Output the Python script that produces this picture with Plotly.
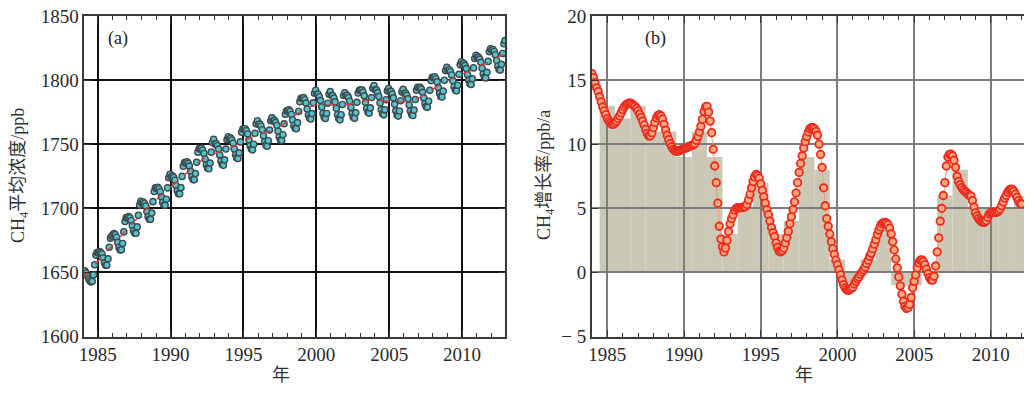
import plotly.graph_objects as go

# ---------------- data: panel (a) monthly CH4 concentration (ppb) ----------------
years_a = list(range(1984, 2013))
ch4_monthly = [
    1651.5, 1651.0, 1649.5, 1647.0, 1645.0, 1643.5, 1642.5, 1643.0, 1648.0, 1656.0, 1663.5, 1665.5,  # 1984
    1665.3, 1666.3, 1665.4, 1664.4, 1661.4, 1657.5, 1655.5, 1655.6, 1660.6, 1669.6, 1676.7, 1678.2,  # 1985
    1679.3, 1680.3, 1679.4, 1677.4, 1673.4, 1669.5, 1667.5, 1667.6, 1672.6, 1681.6, 1689.7, 1692.7,  # 1986
    1692.5, 1693.5, 1692.5, 1690.5, 1686.5, 1682.5, 1680.5, 1680.5, 1685.5, 1694.5, 1702.5, 1705.5,  # 1987
    1704.0, 1704.9, 1703.8, 1701.7, 1697.6, 1693.5, 1691.5, 1691.4, 1696.3, 1705.2, 1713.1, 1716.0,  # 1988
    1715.4, 1716.3, 1715.1, 1712.9, 1708.8, 1704.6, 1702.4, 1702.3, 1707.1, 1715.9, 1723.8, 1726.6,  # 1989
    1724.4, 1725.3, 1724.1, 1721.9, 1717.8, 1713.6, 1711.4, 1711.3, 1716.1, 1724.9, 1732.8, 1735.6,  # 1990
    1735.4, 1736.3, 1735.1, 1732.9, 1728.8, 1724.6, 1722.4, 1722.3, 1727.1, 1735.9, 1743.8, 1746.6,  # 1991
    1746.3, 1746.8, 1745.3, 1742.8, 1738.3, 1733.8, 1731.3, 1730.8, 1735.3, 1743.8, 1751.3, 1753.8,  # 1992
    1750.2, 1750.5, 1748.8, 1746.2, 1741.5, 1736.8, 1734.2, 1733.5, 1737.8, 1746.2, 1753.5, 1755.8,  # 1993
    1754.3, 1754.8, 1753.3, 1750.8, 1746.3, 1741.8, 1739.3, 1738.8, 1743.3, 1751.8, 1759.3, 1761.8,  # 1994
    1761.7, 1762.1, 1760.5, 1758.0, 1753.4, 1748.8, 1746.2, 1745.6, 1750.0, 1758.5, 1765.9, 1768.3,  # 1995
    1765.4, 1765.7, 1764.0, 1761.3, 1756.6, 1751.9, 1749.1, 1748.4, 1752.7, 1761.0, 1768.3, 1770.6,  # 1996
    1768.0, 1768.6, 1767.1, 1764.6, 1760.2, 1755.7, 1753.3, 1752.8, 1757.4, 1765.9, 1773.4, 1776.0,  # 1997
    1776.1, 1776.8, 1775.5, 1773.2, 1768.9, 1764.6, 1762.4, 1762.1, 1766.8, 1775.5, 1783.2, 1785.9,  # 1998
    1785.9, 1786.3, 1784.7, 1782.1, 1777.4, 1772.8, 1770.2, 1769.6, 1773.9, 1782.3, 1789.7, 1792.1,  # 1999
    1789.0, 1789.0, 1787.0, 1784.0, 1779.0, 1774.0, 1771.0, 1770.0, 1774.0, 1782.0, 1789.0, 1791.0,  # 2000
    1788.0, 1788.0, 1786.0, 1783.0, 1778.0, 1773.0, 1770.0, 1769.0, 1773.0, 1781.0, 1788.0, 1790.0,  # 2001
    1787.9, 1788.1, 1786.3, 1783.5, 1778.7, 1773.9, 1771.1, 1770.3, 1774.5, 1782.7, 1789.9, 1792.1,  # 2002
    1792.3, 1792.4, 1790.6, 1787.7, 1782.8, 1777.9, 1775.1, 1774.2, 1778.3, 1786.4, 1793.6, 1795.7,  # 2003
    1792.5, 1792.4, 1790.3, 1787.2, 1782.1, 1777.0, 1774.0, 1772.9, 1776.8, 1784.7, 1791.6, 1793.5,  # 2004
    1791.2, 1791.2, 1789.1, 1786.1, 1781.1, 1776.0, 1773.0, 1771.9, 1775.9, 1783.9, 1790.8, 1792.8,  # 2005
    1789.6, 1789.9, 1788.1, 1785.4, 1780.6, 1775.9, 1773.1, 1772.4, 1776.6, 1784.9, 1792.1, 1794.4,  # 2006
    1793.8, 1794.4, 1793.0, 1790.5, 1786.1, 1781.7, 1779.3, 1778.9, 1783.5, 1792.0, 1799.6, 1802.2,  # 2007
    1802.0, 1802.6, 1801.1, 1798.6, 1794.2, 1789.7, 1787.3, 1786.8, 1791.4, 1799.9, 1807.4, 1810.0,  # 2008
    1807.7, 1808.1, 1806.5, 1804.0, 1799.4, 1794.8, 1792.2, 1791.6, 1796.0, 1804.5, 1811.9, 1814.3,  # 2009
    1812.7, 1813.1, 1811.5, 1809.0, 1804.4, 1799.8, 1797.2, 1796.6, 1801.0, 1809.5, 1816.9, 1819.3,  # 2010
    1817.5, 1817.9, 1816.4, 1813.9, 1809.3, 1804.8, 1802.2, 1801.7, 1806.1, 1814.6, 1822.1, 1824.5,  # 2011
    1823.3, 1823.8, 1822.3, 1819.8, 1815.3, 1810.8, 1808.3, 1807.8, 1812.3, 1820.8, 1828.3, 1830.8,  # 2012
]
# deseasonalised trend (ppb) at the start of each year
trend_years = list(range(1984, 2014))
trend_values = [1645.5, 1658.5, 1671.0, 1683.5, 1695.5, 1706.5, 1716.5, 1726.5, 1736.5, 1742.5,
                1746.5, 1752.5, 1757.5, 1761.0, 1767.5, 1776.0, 1780.5, 1780.5, 1780.5, 1783.0,
                1784.5, 1783.5, 1783.0, 1786.0, 1793.0, 1799.5, 1804.5, 1809.5, 1815.0, 1821.0]

# ---------------- data: panel (b) growth rate (ppb/a) ----------------
growth_start, growth_step = 1984.0, 0.1
growth_smoothed = [
    15.5, 15.2, 14.8, 14.4, 14.1, 13.7, 13.3, 12.9, 12.6, 12.3,          # 1984
    12.0, 11.8, 11.65, 11.55, 11.55, 11.65, 11.8, 12.0, 12.2, 12.45,    # 1985
    12.7, 12.9, 13.05, 13.15, 13.2, 13.2, 13.15, 13.05, 12.95, 12.8,    # 1986
    12.6, 12.35, 12.1, 11.8, 11.5, 11.15, 10.85, 10.65, 10.65, 10.9,    # 1987
    11.3, 11.7, 12.05, 12.25, 12.3, 12.2, 11.95, 11.55, 11.1, 10.7,     # 1988
    10.35, 10.05, 9.8, 9.6, 9.5, 9.45, 9.45, 9.5, 9.55, 9.6,            # 1989
    9.65, 9.7, 9.75, 9.8, 9.85, 9.9, 9.95, 10.05, 10.3, 10.6,           # 1990
    10.95, 11.4, 11.95, 12.55, 12.9, 12.95, 12.5, 11.8, 10.9, 9.6,      # 1991
    8.3, 7.0, 5.4, 3.6, 2.6, 2.0, 1.6, 1.9, 2.5, 3.2,                   # 1992
    3.8, 4.2, 4.5, 4.85, 5.0, 5.05, 5.05, 5.05, 5.05, 5.1,              # 1993
    5.15, 5.3, 5.65, 6.1, 6.6, 7.1, 7.45, 7.65, 7.55, 7.35,             # 1994
    6.9, 6.4, 5.9, 5.4, 4.9, 4.5, 4.0, 3.5, 3.1, 2.8,                   # 1995
    2.3, 1.95, 1.65, 1.6, 1.7, 1.9, 2.3, 2.7, 3.2, 3.8,                 # 1996
    4.35, 4.9, 5.5, 6.2, 7.0, 7.8, 8.5, 9.1, 9.7, 10.2,                 # 1997
    10.6, 10.95, 11.2, 11.3, 11.3, 11.2, 11.0, 10.7, 10.0, 9.2,         # 1998
    8.2, 6.6, 5.2, 4.2, 3.6, 3.0, 2.4, 1.85, 1.4, 0.95,                 # 1999
    0.6, 0.2, -0.2, -0.6, -0.95, -1.2, -1.35, -1.4, -1.35, -1.25,       # 2000
    -1.15, -0.9, -0.7, -0.5, -0.35, -0.15, 0.03, 0.2, 0.4, 0.7,         # 2001
    0.95, 1.25, 1.5, 1.85, 2.2, 2.55, 2.95, 3.3, 3.55, 3.8,             # 2002
    3.88, 3.9, 3.85, 3.72, 3.45, 3.0, 2.4, 1.75, 1.05, 0.35,            # 2003
    -0.35, -1.05, -1.7, -2.25, -2.65, -2.82, -2.75, -2.5, -1.95, -1.2,  # 2004
    -0.7, -0.2, 0.35, 0.75, 0.95, 0.98, 0.85, 0.6, 0.25, -0.1,          # 2005
    -0.4, -0.58, -0.6, -0.3, 0.5, 1.6, 2.7, 4.0, 5.0, 6.0,              # 2006
    7.0, 8.3, 9.0, 9.2, 9.22, 9.1, 8.75, 8.2, 7.5, 7.1,                 # 2007
    6.85, 6.62, 6.45, 6.33, 6.24, 6.12, 6.0, 5.95, 5.6, 5.1,            # 2008
    4.65, 4.4, 4.2, 4.05, 3.95, 3.9, 3.92, 4.04, 4.3, 4.55,             # 2009
    4.65, 4.68, 4.68, 4.68, 4.7, 4.8, 4.94, 5.2, 5.5, 5.8,              # 2010
    6.0, 6.25, 6.42, 6.5, 6.48, 6.32, 6.1, 5.85, 5.6, 5.4,              # 2011
    5.33,                                                               # 2012.0
]
bar_years = list(range(1985, 2013))
growth_annual = [13, 12, 13, 11, 11, 9, 11, 9, 3, 5, 7, 3, 4, 9, 8, 1, -1, 1, 4, -1, -1, 0, 6, 8, 5, 5, 5, 6]

# ---------------- figure ----------------
t_a = [y + (m + 0.5) / 12 for y in years_a for m in range(12)]
t_b = [round(growth_start + growth_step * i, 3) for i in range(len(growth_smoothed))]

# the page shows the figure at an 8px body offset, so it is sized 1016x377
W, H = 1016, 377
OFF = 8


def fx(px):
    return (px - OFF) / W


def fy(py):
    return 1 - (py - OFF) / H


SERIF = "Liberation Serif, Times New Roman, Noto Sans CJK SC, serif"

fig = go.Figure()

fig.add_trace(go.Scatter(
    x=t_a, y=ch4_monthly, mode="markers", xaxis="x", yaxis="y",
    marker=dict(size=6.2, color="#55c2d2", line=dict(color="#3d4b4d", width=1.4)),
    showlegend=False, hoverinfo="x+y"))
fig.add_trace(go.Scatter(
    x=trend_years, y=trend_values, mode="lines", xaxis="x", yaxis="y",
    line=dict(color="#e23a3a", width=1.3, dash="dash", shape="spline"),
    showlegend=False))

fig.add_trace(go.Scatter(
    x=t_b, y=growth_smoothed, mode="lines+markers", xaxis="x2", yaxis="y2",
    line=dict(color="#f39a7a", width=1),
    marker=dict(size=7.5, color="#f6a77c", line=dict(color="#ec2b1f", width=1.8)),
    showlegend=False))

# annual growth bars, drawn below the grid
shapes = []
for yr, v in zip(bar_years, growth_annual):
    if v == 0:
        continue
    shapes.append(dict(type="rect", xref="x2", yref="y2", x0=yr - 0.5, x1=yr + 0.5,
                       y0=0, y1=v, fillcolor="#cbc9b5", line=dict(width=0), layer="below"))

ydom = [fy(336.5), fy(16)]
tickfont = dict(family=SERIF, size=19, color="#2a2a2a")

common_x = dict(ticks="inside", ticklen=7, tickwidth=1.3, tickcolor="#333",
                showline=True, linecolor="#3a3a3a", linewidth=1.5, ticklabeloverflow="allow",
                zeroline=False, tickfont=tickfont, tick0=1985, dtick=5, automargin=False,
                minor=dict(dtick=1, tick0=1985, ticks="inside", ticklen=4, tickcolor="#333", showgrid=False))

title_font = dict(family=SERIF, size=18, color="#333")

fig.update_layout(
    width=W, height=H, margin=dict(l=0, r=0, t=0, b=0, autoexpand=False),
    paper_bgcolor="white", plot_bgcolor="white",
    xaxis=dict(domain=[fx(84.3), fx(505)], range=[1984.08, 2012.95], anchor="y",
               mirror="allticks", showgrid=True, gridcolor="#111", gridwidth=1.5, **common_x),
    yaxis=dict(domain=ydom, range=[1600, 1850], dtick=50, anchor="x", automargin=False,
               ticks="inside", ticklen=7, tickwidth=1.3, tickcolor="#333", ticklabeloverflow="allow",
               showline=True, linecolor="#3a3a3a", linewidth=1.5, mirror="allticks",
               showgrid=True, gridcolor="#111", gridwidth=1.5, zeroline=False, tickfont=tickfont),
    xaxis2=dict(domain=[fx(591.7), 1.0], range=[1983.98, 2012.16], anchor="y2",
                mirror="allticks", showgrid=True, gridcolor="#7d7d7d", gridwidth=1.5, **common_x),
    yaxis2=dict(domain=ydom, range=[-5, 20], anchor="x2", automargin=False,
                tickvals=[-5, 0, 5, 10, 15, 20], ticktext=["\u2212 5", "0", "5", "10", "15", "20"],
                ticks="inside", ticklen=7, tickwidth=1.3, tickcolor="#333", ticklabeloverflow="allow",
                showline=True, linecolor="#3a3a3a", linewidth=1.5, mirror=False,
                showgrid=True, gridcolor="#7d7d7d", gridwidth=1.5, zeroline=False, tickfont=tickfont),
    shapes=shapes,
    annotations=[
        dict(text="(a)", x=fx(118), y=fy(38), xref="paper", yref="paper", showarrow=False,
             xanchor="center", yanchor="middle", font=dict(family=SERIF, size=18, color="#222")),
        dict(text="(b)", x=fx(655), y=fy(38), xref="paper", yref="paper", showarrow=False,
             xanchor="center", yanchor="middle", font=dict(family=SERIF, size=18, color="#222")),
        dict(text="CH<sub>4</sub>平均浓度/ppb", x=fx(19), y=fy(176), xref="paper", yref="paper",
             showarrow=False, textangle=-90, xanchor="center", yanchor="middle", font=title_font),
        dict(text="CH<sub>4</sub>增长率/ppb/a", x=fx(545), y=fy(175), xref="paper", yref="paper",
             showarrow=False, textangle=-90, xanchor="center", yanchor="middle", font=title_font),
        dict(text="年", x=fx(281), y=fy(375), xref="paper", yref="paper", showarrow=False,
             xanchor="center", yanchor="middle", font=title_font),
        dict(text="年", x=fx(804), y=fy(375), xref="paper", yref="paper", showarrow=False,
             xanchor="center", yanchor="middle", font=title_font),
    ],
)

fig.write_html("out.html")
